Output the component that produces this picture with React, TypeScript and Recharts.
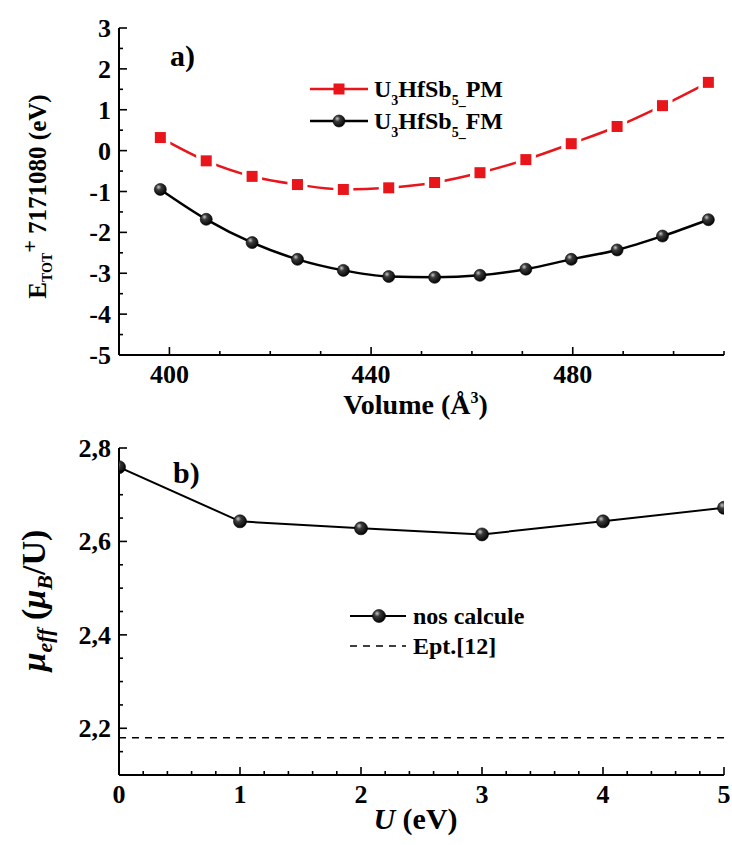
import { Legend, Line, LineChart, ReferenceLine, XAxis, YAxis } from "recharts";

// panel a) total energy vs volume
const VOLUMES = [398.2, 407.3, 416.4, 425.4, 434.5, 443.5, 452.6, 461.6, 470.7, 479.7, 488.8, 497.8, 506.9];
const E_PM = [0.32, -0.25, -0.63, -0.83, -0.95, -0.91, -0.78, -0.54, -0.22, 0.17, 0.59, 1.1, 1.67];
const E_FM = [-0.95, -1.68, -2.25, -2.66, -2.93, -3.08, -3.1, -3.05, -2.9, -2.66, -2.43, -2.09, -1.69];
const VOL_TICKS = [390, 400, 410, 420, 430, 440, 450, 460, 470, 480, 490, 500, 510];
const VOL_LABELS = [400, 440, 480];
const E_TICKS = [-5, -4.5, -4, -3.5, -3, -2.5, -2, -1.5, -1, -0.5, 0, 0.5, 1, 1.5, 2, 2.5, 3];
const E_LABELS = [-5, -4, -3, -2, -1, 0, 1, 2, 3];

// panel b) effective moment vs U
const U_VALUES = [0, 1, 2, 3, 4, 5];
const MU_EFF = [2.759, 2.643, 2.628, 2.615, 2.643, 2.672];
const MU_EXP = 2.18;
const U_TICKS = [0, 0.2, 0.4, 0.6, 0.8, 1, 1.2, 1.4, 1.6, 1.8, 2, 2.2, 2.4, 2.6, 2.8, 3, 3.2, 3.4, 3.6, 3.8, 4, 4.2, 4.4, 4.6, 4.8, 5];
const U_LABELS = [0, 1, 2, 3, 4, 5];
const MU_TICKS = [2.1, 2.15, 2.2, 2.25, 2.3, 2.35, 2.4, 2.45, 2.5, 2.55, 2.6, 2.65, 2.7, 2.75, 2.8];
const MU_LABELS = [2.2, 2.4, 2.6, 2.8];

const FONT = "Liberation Serif, Times New Roman, DejaVu Serif, serif";
const RED = "#e8151b";
const AXIS = { stroke: "#000", strokeWidth: 2 };

const topRows = VOLUMES.map((v, i) => ({ v, pm: E_PM[i], fm: E_FM[i] }));
const bottomRows = U_VALUES.map((u, i) => ({ u, mu: MU_EFF[i] }));

const isIn = (list: number[], v: number) => list.some((m) => Math.abs(m - v) < 1e-6);

function makeTick(side: "left" | "right" | "top" | "bottom", labels: number[], fmt: (v: number) => string = String) {
  return (props: any) => {
    const { x, y, payload } = props;
    const v = payload.value;
    const major = isIn(labels, v);
    const len = major ? 8 : 4;
    let line;
    if (side === "left") line = <line x1={x} x2={x + len} y1={y} y2={y} />;
    else if (side === "right") line = <line x1={x} x2={x - len} y1={y} y2={y} />;
    else if (side === "bottom") line = <line x1={x} x2={x} y1={y} y2={y - len} />;
    else line = <line x1={x} x2={x} y1={y} y2={y + len} />;
    return (
      <g stroke="#000" strokeWidth={1.6}>
        {line}
        {major && side === "left" && (
          <text x={x - 8} y={y + 9} textAnchor="end" stroke="none" fill="#000" style={{ fontFamily: FONT, fontWeight: "bold", fontSize: 26 }}>
            {fmt(v)}
          </text>
        )}
        {major && side === "bottom" && (
          <text x={x} y={y + 28} textAnchor="middle" stroke="none" fill="#000" style={{ fontFamily: FONT, fontWeight: "bold", fontSize: 26 }}>
            {fmt(v)}
          </text>
        )}
      </g>
    );
  };
}

const comma = (v: number) => v.toFixed(1).replace(".", ",");

function BallDefs({ id }: { id: string }) {
  return (
    <defs>
      <radialGradient id={id} cx="38%" cy="35%" r="65%" fx="35%" fy="30%">
        <stop offset="0%" stopColor="#c8c8c8" />
        <stop offset="35%" stopColor="#3a3a3a" />
        <stop offset="100%" stopColor="#050505" />
      </radialGradient>
    </defs>
  );
}

const pmDot = (props: any) => {
  const { cx, cy, index } = props;
  return (
    <g key={`pm-${index}`}>
      <rect x={cx - 10} y={cy - 10} width={20} height={20} fill="#fff" />
      <rect x={cx - 5.5} y={cy - 5.5} width={11} height={11} fill={RED} />
    </g>
  );
};

const ballDot = (id: string, r: number) => (props: any) => {
  const { cx, cy, index } = props;
  return <circle key={`${id}-${index}`} cx={cx} cy={cy} r={r} fill={`url(#${id})`} stroke="#000" strokeWidth={0.6} />;
};

const titleStyle = { fontFamily: FONT, fontWeight: "bold" as const, fill: "#000" };

const topXTitle = (props: any) => {
  const vb = props.viewBox;
  return (
    <text x={vb.x + vb.width / 2 - 6} y={vb.y + 59} textAnchor="middle" style={{ ...titleStyle, fontSize: 28 }}>
      Volume (Å<tspan dy={-11} style={{ fontSize: 16 }}>3</tspan>
      <tspan dy={11}>)</tspan>
    </text>
  );
};

const topYTitle = (props: any) => {
  const vb = props.viewBox;
  const cx = vb.x + 46;
  const cy = vb.y + vb.height / 2 + 5;
  return (
    <text x={cx} y={cy} transform={`rotate(-90, ${cx}, ${cy})`} textAnchor="middle" style={{ ...titleStyle, fontSize: 25 }}>
      E<tspan dy={6} style={{ fontSize: 14 }}>TOT</tspan>
      <tspan dy={-15} style={{ fontSize: 22 }}>+</tspan>
      <tspan dy={9}> 7171080  (eV)</tspan>
    </text>
  );
};

const bottomXTitle = (props: any) => {
  const vb = props.viewBox;
  return (
    <text x={vb.x + vb.width / 2 - 6} y={vb.y + 54} textAnchor="middle" style={{ ...titleStyle, fontSize: 30 }}>
      <tspan style={{ fontStyle: "italic" }}>U</tspan> (eV)
    </text>
  );
};

const bottomYTitle = (props: any) => {
  const vb = props.viewBox;
  const cx = vb.x + 45;
  const cy = vb.y + vb.height / 2 - 11;
  return (
    <text x={cx} y={cy} transform={`rotate(-90, ${cx}, ${cy})`} textAnchor="middle" style={{ ...titleStyle, fontSize: 34 }}>
      <tspan style={{ fontStyle: "italic" }}>μ</tspan>
      <tspan style={{ fontStyle: "italic", fontSize: 22 }} dy={7}>eff</tspan>
      <tspan dy={-7}> (</tspan>
      <tspan style={{ fontStyle: "italic" }}>μ</tspan>
      <tspan style={{ fontStyle: "italic", fontSize: 22 }} dy={7}>B</tspan>
      <tspan dy={-7}>/U)</tspan>
    </text>
  );
};

const topLegend = () => (
  <svg width={732} height={420} style={{ display: "block" }}>
    <BallDefs id="ballLegA" />
    <text x={170} y={66} style={{ ...titleStyle, fontSize: 30 }}>a)</text>
    <line x1={310} x2={368} y1={89} y2={89} stroke={RED} strokeWidth={2.5} />
    <rect x={333.5} y={83.5} width={11} height={11} fill={RED} />
    <text x={374} y={97} style={{ ...titleStyle, fontSize: 24 }}>
      U<tspan dy={8} style={{ fontSize: 14 }}>3</tspan>
      <tspan dy={-8}>HfSb</tspan>
      <tspan dy={8} style={{ fontSize: 14 }}>5_</tspan>
      <tspan dy={-8}>PM</tspan>
    </text>
    <line x1={310} x2={368} y1={121} y2={121} stroke="#000" strokeWidth={2.5} />
    <circle cx={339} cy={121} r={6} fill="url(#ballLegA)" stroke="#000" strokeWidth={0.6} />
    <text x={374} y={129} style={{ ...titleStyle, fontSize: 24 }}>
      U<tspan dy={8} style={{ fontSize: 14 }}>3</tspan>
      <tspan dy={-8}>HfSb</tspan>
      <tspan dy={8} style={{ fontSize: 14 }}>5_</tspan>
      <tspan dy={-8}>FM</tspan>
    </text>
  </svg>
);

const bottomLegend = () => (
  <svg width={732} height={425} style={{ display: "block" }}>
    <BallDefs id="ballLegB" />
    <text x={173} y={63} style={{ ...titleStyle, fontSize: 30 }}>b)</text>
    <line x1={350} x2={406} y1={196} y2={196} stroke="#000" strokeWidth={2} />
    <circle cx={379} cy={196} r={6.5} fill="url(#ballLegB)" stroke="#000" strokeWidth={0.6} />
    <text x={413} y={204} style={{ ...titleStyle, fontSize: 24 }}>nos calcule</text>
    <line x1={350} x2={406} y1={226} y2={226} stroke="#000" strokeWidth={1.5} strokeDasharray="7 6" />
    <text x={413} y={234} style={{ ...titleStyle, fontSize: 24 }}>Ept.[12]</text>
  </svg>
);

export default function App() {
  return (
    <div style={{ position: "absolute", left: 0, top: 0, width: 732, height: 845, background: "#fff", fontFamily: FONT }}>
      <LineChart width={732} height={420} data={topRows} margin={{ top: 28, right: 8, bottom: 0, left: 0 }}>
        <BallDefs id="ballA" />
        <XAxis
          xAxisId="b"
          dataKey="v"
          type="number"
          domain={[390, 510]}
          allowDataOverflow
          ticks={VOL_TICKS}
          interval={0}
          tickSize={0}
          tickMargin={0}
          tickLine={false}
          tick={makeTick("bottom", VOL_LABELS)}
          axisLine={AXIS}
          height={65}
          label={topXTitle}
        />
        <XAxis
          xAxisId="t"
          orientation="top"
          dataKey="v"
          type="number"
          domain={[390, 510]}
          allowDataOverflow
          ticks={VOL_TICKS}
          interval={0}
          tickSize={0}
          tickMargin={0}
          tickLine={false}
          tick={makeTick("top", VOL_LABELS)}
          axisLine={AXIS}
          height={0}
        />
        <YAxis
          yAxisId="l"
          type="number"
          domain={[-5, 3]}
          allowDataOverflow
          ticks={E_TICKS}
          interval={0}
          tickSize={0}
          tickMargin={0}
          tickLine={false}
          tick={makeTick("left", E_LABELS)}
          axisLine={AXIS}
          width={119}
          label={topYTitle}
        />
        <YAxis
          yAxisId="r"
          orientation="right"
          type="number"
          domain={[-5, 3]}
          allowDataOverflow
          ticks={E_TICKS}
          interval={0}
          tickSize={0}
          tickMargin={0}
          tickLine={false}
          tick={makeTick("right", E_LABELS)}
          axisLine={AXIS}
          width={0}
        />
        <Line
          xAxisId="b"
          yAxisId="l"
          dataKey="pm"
          type="monotone"
          stroke={RED}
          strokeWidth={2.5}
          dot={pmDot}
          activeDot={false}
          isAnimationActive={false}
        />
        <Line
          xAxisId="b"
          yAxisId="l"
          dataKey="fm"
          type="monotone"
          stroke="#000"
          strokeWidth={2.5}
          dot={ballDot("ballA", 6)}
          activeDot={false}
          isAnimationActive={false}
        />
        <Legend
          verticalAlign="middle"
          align="center"
          content={topLegend}
          wrapperStyle={{ left: 0, top: 0, width: 732, height: 420, pointerEvents: "none" }}
        />
      </LineChart>

      <LineChart width={732} height={425} data={bottomRows} margin={{ top: 28, right: 8, bottom: 0, left: 0 }}>
        <BallDefs id="ballB" />
        <XAxis
          xAxisId="b"
          dataKey="u"
          type="number"
          domain={[0, 5]}
          allowDataOverflow
          ticks={U_TICKS}
          interval={0}
          tickSize={0}
          tickMargin={0}
          tickLine={false}
          tick={makeTick("bottom", U_LABELS)}
          axisLine={AXIS}
          height={70}
          label={bottomXTitle}
        />
        <XAxis
          xAxisId="t"
          orientation="top"
          dataKey="u"
          type="number"
          domain={[0, 5]}
          allowDataOverflow
          ticks={U_TICKS}
          interval={0}
          tickSize={0}
          tickMargin={0}
          tickLine={false}
          tick={makeTick("top", U_LABELS)}
          axisLine={AXIS}
          height={0}
        />
        <YAxis
          yAxisId="l"
          type="number"
          domain={[2.1, 2.8]}
          allowDataOverflow
          ticks={MU_TICKS}
          interval={0}
          tickSize={0}
          tickMargin={0}
          tickLine={false}
          tick={makeTick("left", MU_LABELS, comma)}
          axisLine={AXIS}
          width={119}
          label={bottomYTitle}
        />
        <YAxis
          yAxisId="r"
          orientation="right"
          type="number"
          domain={[2.1, 2.8]}
          allowDataOverflow
          ticks={MU_TICKS}
          interval={0}
          tickSize={0}
          tickMargin={0}
          tickLine={false}
          tick={makeTick("right", MU_LABELS)}
          axisLine={AXIS}
          width={0}
        />
        <ReferenceLine xAxisId="b" yAxisId="l" y={MU_EXP} stroke="#000" strokeWidth={1.5} strokeDasharray="7 6" />
        <Line
          xAxisId="b"
          yAxisId="l"
          dataKey="mu"
          type="linear"
          stroke="#000"
          strokeWidth={2}
          dot={ballDot("ballB", 6.5)}
          activeDot={false}
          isAnimationActive={false}
        />
        <Legend
          verticalAlign="middle"
          align="center"
          content={bottomLegend}
          wrapperStyle={{ left: 0, top: 0, width: 732, height: 425, pointerEvents: "none" }}
        />
      </LineChart>
    </div>
  );
}
